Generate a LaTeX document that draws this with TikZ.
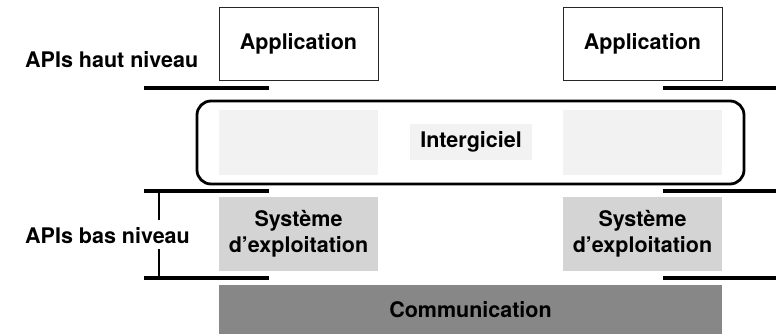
\documentclass[tikz,border=0pt]{standalone}
\usepackage{fontspec}
\setmainfont{TeX Gyre Heros}
\begin{document}
\begin{tikzpicture}[x=1pt,y=-1pt,
  txt/.style={font=\fontsize{21.5}{25}\selectfont\bfseries, align=center},
  box/.style={txt, inner sep=0pt, outer sep=0pt, minimum width=159pt},
  appbox/.style={box, draw=black!85, line width=0.9pt, fill=white, minimum height=73pt},
  midbox/.style={box, fill=black!5, minimum height=65pt},
  osbox/.style={box, fill=black!17, minimum height=74pt},
  bar/.style={line width=3.5pt},
  tick/.style={line width=1.5pt}]
\useasboundingbox (0,0) rectangle (776,334);

% application layer
\node[appbox] (appL) at (298.5,43.5) {Application};
\node[appbox] (appR) at (642.5,43.5) {Application};

% middleware frame and its contents
\node[draw, line width=2.8pt, rounded corners=14pt, minimum width=547pt,
      minimum height=83pt, inner sep=0pt] (mw) at (470.5,142.5) {};
\node[midbox] (mwL) at (298.5,142.5) {};
\node[midbox] (mwR) at (642.5,142.5) {};
\node[txt, fill=black!5, minimum width=122pt, minimum height=36pt, inner sep=0pt] (mwlabel) at (471,142) {Intergiciel};

% operating systems
\node[osbox] (osL) at (298.5,234) {Système\\[1pt]d’exploitation};
\node[osbox] (osR) at (642.5,234) {Système\\[1pt]d’exploitation};

% communication layer
\node[txt, fill=black!47, minimum width=503pt, minimum height=49pt, inner sep=0pt] (comm) at (470.5,309.5) {Communication};

% API level markers
\draw[bar] (144,88) -- (269,88);
\draw[bar] (663,88) -- (776,88);
\draw[bar] (144,191) -- (269,191);
\draw[bar] (663,191) -- (776,191);
\draw[bar] (144,278) -- (269,278);
\draw[bar] (663,278) -- (776,278);
\draw[tick] (159,191) -- (159,220);
\draw[tick] (159,249) -- (159,278);

\node[txt, anchor=base west, inner sep=0pt] (hi) at (25,68) {APIs haut niveau};
\node[txt, anchor=base west, inner sep=0pt, fill=white] (lo) at (25,243) {APIs bas niveau};
\end{tikzpicture}
\end{document}
